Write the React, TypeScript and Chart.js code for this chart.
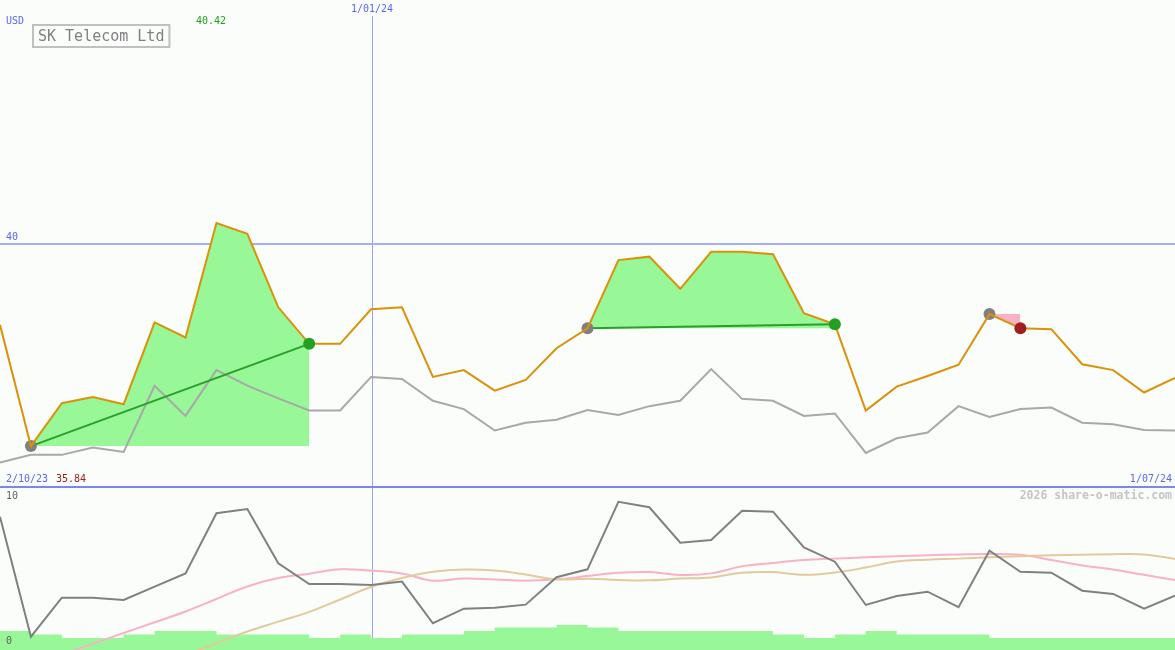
import React, { useEffect, useRef } from 'react';
import { Chart, registerables } from 'chart.js';

Chart.register(...registerables);

// ---- data ----
const dates = [
  '9/10/23', '16/10/23', '23/10/23', '30/10/23', '6/11/23', '13/11/23', '20/11/23', '27/11/23',
  '4/12/23', '11/12/23', '18/12/23', '25/12/23', '1/01/24', '8/01/24', '15/01/24', '22/01/24',
  '29/01/24', '5/02/24', '12/02/24', '19/02/24', '26/02/24', '4/03/24', '11/03/24', '18/03/24',
  '25/03/24', '1/04/24', '8/04/24', '15/04/24', '22/04/24', '29/04/24', '6/05/24', '13/05/24',
  '20/05/24', '27/05/24', '3/06/24', '10/06/24', '17/06/24', '24/06/24', '1/07/24',
];

const price = [
  38.33, 35.84, 36.72, 36.85, 36.70, 38.38, 38.07, 40.42, 40.20, 38.69,
  37.94, 37.94, 38.65, 38.69, 37.26, 37.40, 36.98, 37.20, 37.85, 38.26,
  39.66, 39.73, 39.07, 39.83, 39.83, 39.78, 38.57, 38.34, 36.57, 37.06,
  37.28, 37.51, 38.55, 38.26, 38.24, 37.52, 37.40, 36.94, 37.24,
];

const relative = [
  35.50, 35.66, 35.66, 35.81, 35.72, 37.08, 36.46, 37.40, 37.08, 36.82,
  36.57, 36.57, 37.26, 37.22, 36.77, 36.60, 36.16, 36.32, 36.38, 36.58,
  36.48, 36.66, 36.77, 37.42, 36.81, 36.77, 36.46, 36.51, 35.70, 36.00,
  36.12, 36.66, 36.44, 36.60, 36.63, 36.32, 36.29, 36.17, 36.16,
];

const oscillator = [
  8.23, 0.82, 3.23, 3.23, 3.09, 3.91, 4.73, 8.44, 8.70, 5.35,
  4.07, 4.07, 4.01, 4.22, 1.65, 2.55, 2.61, 2.80, 4.49, 4.98,
  9.15, 8.81, 6.62, 6.79, 8.60, 8.54, 6.33, 5.45, 2.78, 3.33,
  3.60, 2.64, 6.13, 4.83, 4.77, 3.66, 3.46, 2.55, 3.35,
];

const fastAvg = [
  null, null, -0.28, 0.38, 1.05, 1.71, 2.38, 3.15, 3.92, 4.44,
  4.71, 4.98, 4.90, 4.72, 4.28, 4.41, 4.35, 4.28, 4.36, 4.57,
  4.77, 4.81, 4.63, 4.73, 5.17, 5.37, 5.56, 5.64, 5.72, 5.78,
  5.85, 5.90, 5.93, 5.88, 5.56, 5.22, 4.97, 4.64, 4.32,
];

const slowAvg = [
  null, null, null, null, null, null, -0.30, 0.42, 1.14, 1.75,
  2.35, 3.12, 3.89, 4.44, 4.83, 4.97, 4.90, 4.66, 4.36, 4.40,
  4.32, 4.30, 4.41, 4.48, 4.77, 4.81, 4.64, 4.78, 5.09, 5.46,
  5.57, 5.64, 5.73, 5.79, 5.85, 5.88, 5.91, 5.90, 5.62,
];

// weekly volume (millions), each value covers its week up to the next point
const volume = [
  3.8, 3.8, 3.1, 2.4, 2.4, 3.1, 3.8, 3.8, 3.1, 3.1,
  3.1, 2.4, 3.1, 2.4, 3.1, 3.1, 3.8, 4.5, 4.5, 5.0,
  4.5, 3.8, 3.8, 3.8, 3.8, 3.8, 3.1, 2.4, 3.1, 3.8,
  3.1, 3.1, 3.1, 2.4, 2.4, 2.4, 2.4, 2.4, 2.4,
];

const riseSegments = [
  { from: 1, to: 10 },
  { from: 19, to: 27 },
];
const fallSegments = [{ from: 32, to: 33 }];

const currency = 'USD';
const title = 'SK Telecom Ltd';
const highLabel = '40.42';
const lowLabel = '35.84';
const periodStart = '2/10/23';
const periodEnd = '1/07/24';
const priceGrid = 40;
const priceFloor = 35;
const yearMarkIndex = 12;
const oscTicks = [10, 0];
const watermark = '2026 share-o-matic.com';

// ---- styles ----
const BG = '#fbfdfb';
const BLUE_TXT = '#5a68f0';
const GRID = '#a6aef6';
const VLINE = '#98a2f8';
const SEP = '#7a88ee';
const ORANGE = '#d9920a';
const GREY = '#a8a8a8';
const OSC = '#808080';
const PINK = '#f8b2c8';
const TAN = '#e2ca9c';
const FILL_GREEN = '#98f898';
const TREND = '#28a028';
const MONO = '"DejaVu Sans Mono", "Liberation Mono", monospace';

const W = 1175;
const H = 650;

const only = (arr: number[], idx: number[]) => arr.map((v, i) => (idx.includes(i) ? v : null));
const range = (arr: number[], a: number, b: number) => arr.map((v, i) => (i >= a && i <= b ? v : null));

export default function App() {
  const ref = useRef<HTMLCanvasElement | null>(null);

  useEffect(() => {
    document.body.style.margin = '0';
    const canvas = ref.current;
    if (!canvas) return;

    const datasets: any[] = [];

    datasets.push({
      label: 'volume',
      data: volume,
      yAxisID: 'yVol',
      stepped: 'after',
      fill: 'origin',
      backgroundColor: FILL_GREEN,
      borderWidth: 0,
      borderColor: 'rgba(0,0,0,0)',
      pointRadius: 0,
      order: 20,
    });
    datasets.push({
      label: 'fast',
      data: fastAvg,
      yAxisID: 'yOsc',
      borderColor: PINK,
      borderWidth: 2,
      pointRadius: 0,
      tension: 0.4,
      order: 18,
    });
    datasets.push({
      label: 'slow',
      data: slowAvg,
      yAxisID: 'yOsc',
      borderColor: TAN,
      borderWidth: 2,
      pointRadius: 0,
      tension: 0.4,
      order: 17,
    });
    datasets.push({
      label: 'osc',
      data: oscillator,
      yAxisID: 'yOsc',
      borderColor: OSC,
      borderWidth: 2,
      pointRadius: 0,
      tension: 0,
      order: 16,
    });

    riseSegments.forEach((s) => {
      datasets.push({
        label: 'rise',
        data: range(price, s.from, s.to),
        yAxisID: 'yPrice',
        fill: { value: price[s.from] },
        backgroundColor: FILL_GREEN,
        borderColor: 'rgba(0,0,0,0)',
        borderWidth: 0,
        pointRadius: 0,
        tension: 0,
        order: 14,
      });
    });
    fallSegments.forEach((s) => {
      datasets.push({
        label: 'fall',
        data: range(price, s.from, s.to),
        yAxisID: 'yPrice',
        fill: { value: price[s.from] },
        backgroundColor: PINK,
        borderColor: 'rgba(0,0,0,0)',
        borderWidth: 0,
        pointRadius: 0,
        tension: 0,
        order: 14,
      });
    });

    datasets.push({
      label: 'relative',
      data: relative,
      yAxisID: 'yPrice',
      borderColor: GREY,
      borderWidth: 2,
      pointRadius: 0,
      tension: 0,
      order: 12,
    });

    riseSegments.forEach((s) => {
      datasets.push({
        label: 'trend',
        data: only(price, [s.from, s.to]),
        yAxisID: 'yPrice',
        spanGaps: true,
        borderColor: TREND,
        borderWidth: 2,
        pointRadius: 0,
        tension: 0,
        order: 10,
      });
    });

    const startIdx = [...riseSegments, ...fallSegments].map((s) => s.from);
    datasets.push({
      label: 'start markers',
      data: only(price, startIdx),
      yAxisID: 'yPrice',
      showLine: false,
      pointRadius: 6,
      pointBackgroundColor: '#808080',
      pointBorderWidth: 0,
      order: 8,
    });

    datasets.push({
      label: 'price',
      data: price,
      yAxisID: 'yPrice',
      borderColor: ORANGE,
      borderWidth: 2,
      pointRadius: 0,
      tension: 0,
      order: 6,
    });

    datasets.push({
      label: 'rise end markers',
      data: only(price, riseSegments.map((s) => s.to)),
      yAxisID: 'yPrice',
      showLine: false,
      pointRadius: 6,
      pointBackgroundColor: '#22a022',
      pointBorderWidth: 0,
      order: 4,
    });
    datasets.push({
      label: 'fall end markers',
      data: only(price, fallSegments.map((s) => s.to)),
      yAxisID: 'yPrice',
      showLine: false,
      pointRadius: 6,
      pointBackgroundColor: '#a01e1e',
      pointBorderWidth: 0,
      order: 4,
    });

    const bgPlugin = {
      id: 'bg',
      beforeDraw(chart: any) {
        const ctx = chart.ctx;
        ctx.save();
        ctx.fillStyle = BG;
        ctx.fillRect(0, 0, chart.width, chart.height);
        ctx.restore();
      },
    };

    const gridPlugin = {
      id: 'grid',
      beforeDatasetsDraw(chart: any) {
        const ctx = chart.ctx;
        const x = chart.scales.x;
        const yP = chart.scales.yPrice;
        ctx.save();
        const vx = Math.ceil(x.getPixelForValue(yearMarkIndex));
        ctx.fillStyle = VLINE;
        ctx.fillRect(vx, 16, 1, chart.height - 16);
        const gy = Math.round(yP.getPixelForValue(priceGrid));
        ctx.fillStyle = GRID;
        ctx.fillRect(0, gy - 1, chart.width, 2);
        const sy = Math.round(yP.getPixelForValue(priceFloor));
        ctx.fillStyle = SEP;
        ctx.fillRect(0, sy - 1, chart.width, 2);
        ctx.restore();
      },
    };

    const textPlugin = {
      id: 'texts',
      afterDraw(chart: any) {
        const ctx = chart.ctx;
        const x = chart.scales.x;
        const yP = chart.scales.yPrice;
        const yO = chart.scales.yOsc;
        ctx.save();
        ctx.textBaseline = 'middle';
        ctx.font = `10px ${MONO}`;

        ctx.fillStyle = BLUE_TXT;
        ctx.textAlign = 'left';
        ctx.fillText(currency, 6, 21);
        ctx.fillStyle = '#20a020';
        ctx.fillText(highLabel, 196, 21);

        ctx.fillStyle = BLUE_TXT;
        ctx.textAlign = 'center';
        ctx.fillText(dates[yearMarkIndex], Math.ceil(x.getPixelForValue(yearMarkIndex)), 9);

        ctx.textAlign = 'left';
        ctx.fillText(String(priceGrid), 6, yP.getPixelForValue(priceGrid) - 6);

        const sepY = yP.getPixelForValue(priceFloor);
        ctx.fillText(periodStart, 6, sepY - 8);
        ctx.fillStyle = '#a01e1e';
        ctx.fillText(lowLabel, 56, sepY - 8);
        ctx.fillStyle = BLUE_TXT;
        ctx.textAlign = 'right';
        ctx.fillText(periodEnd, chart.width - 3, sepY - 8);

        ctx.fillStyle = '#606060';
        ctx.textAlign = 'left';
        ctx.fillText(String(oscTicks[0]), 6, yO.getPixelForValue(oscTicks[0]) + 8);
        ctx.fillText(String(oscTicks[1]), 6, yO.getPixelForValue(oscTicks[1]) - 9);

        ctx.font = `bold 11.5px ${MONO}`;
        ctx.fillStyle = '#c4c4c4';
        ctx.textAlign = 'right';
        ctx.fillText(watermark, chart.width - 3, sepY + 9);

        ctx.font = `15px ${MONO}`;
        ctx.textAlign = 'left';
        const tw = ctx.measureText(title).width;
        ctx.fillStyle = BG;
        ctx.fillRect(33, 25, tw + 10, 22);
        ctx.strokeStyle = '#c0c0c0';
        ctx.lineWidth = 2;
        ctx.strokeRect(33, 25, tw + 10, 22);
        ctx.fillStyle = '#808080';
        ctx.fillText(title, 38, 37);
        ctx.restore();
      },
    };

    const chart = new Chart(canvas, {
      type: 'line',
      data: { labels: dates, datasets },
      options: {
        responsive: false,
        animation: false,
        devicePixelRatio: 1,
        layout: { padding: 0, autoPadding: false },
        plugins: { legend: { display: false }, tooltip: { enabled: false } },
        scales: {
          x: { type: 'category', display: false, offset: false },
          yPrice: { type: 'linear', display: false, min: 31.653, max: 45 },
          yOsc: { type: 'linear', display: false, min: 0, max: 40.12 },
          yVol: { type: 'linear', display: false, min: 0, max: 130 },
        },
      },
      plugins: [bgPlugin, gridPlugin, textPlugin],
    });

    return () => chart.destroy();
  }, []);

  return (
    <div style={{ position: 'absolute', left: 0, top: 0, width: W, height: H }}>
      <canvas ref={ref} width={W} height={H} style={{ display: 'block' }} />
    </div>
  );
}
